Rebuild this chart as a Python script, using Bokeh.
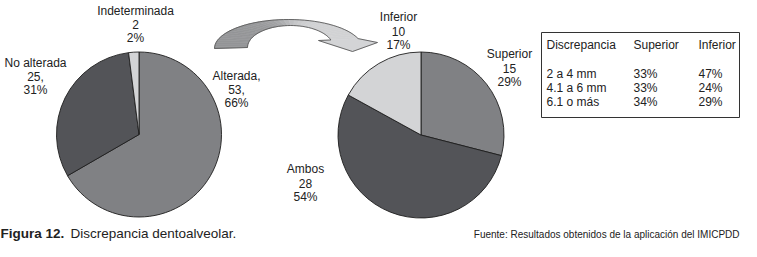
import numpy as np
from bokeh.plotting import figure
from bokeh.models import Range1d, ColumnDataSource
from bokeh.core.properties import value
from bokeh.embed import file_html
from bokeh.resources import INLINE

# ---------------- data ----------------
left_names = ["Alterada", "No alterada", "Indeterminada"]
left_counts = [53, 25, 2]
left_pcts = [66, 31, 2]
left_name_punct = [",", "", ""]
left_count_punct = [",", ",", ""]

right_names = ["Superior", "Ambos", "Inferior"]
right_counts = [15, 28, 10]
right_pcts = [29, 54, 17]

table_header = ["Discrepancia", "Superior", "Inferior"]
table_rows = ["2 a 4 mm", "4.1 a 6 mm", "6.1 o más"]
table_sup = ["33%", "33%", "34%"]
table_inf = ["47%", "24%", "29%"]

caption_bold = "Figura 12."
caption_text = "Discrepancia dentoalveolar."
source_text = "Fuente: Resultados obtenidos de la aplicación del IMICPDD"

# ---------------- styling ----------------
FONT = value("Liberation Sans")
TXT = "#222222"
slice_colors = ["#808184", "#535458", "#d3d4d6"]

W, H = 741, 241
p = figure(width=W, height=H, output_backend="svg", toolbar_location=None,
           x_range=Range1d(0, W), y_range=Range1d(H, 0),
           x_axis_type=None, y_axis_type=None, min_border=0)
p.grid.visible = False
p.outline_line_color = None
p.background_fill_color = "white"
p.border_fill_color = "white"


def pie(cx, cy, r, pcts, names):
    vals = np.array(pcts, dtype=float)
    frac = vals / vals.sum()
    cum = np.concatenate([[0], np.cumsum(frac)]) * 2 * np.pi
    start = np.pi / 2 - cum[1:]
    end = np.pi / 2 - cum[:-1]
    src = ColumnDataSource(dict(x=[cx] * len(vals), y=[cy] * len(vals),
                                start=start, end=end, color=slice_colors[:len(vals)],
                                name=names))
    p.wedge(x="x", y="y", radius=r, start_angle="start", end_angle="end",
            direction="anticlock", fill_color="color", line_color="#1e1e1e",
            line_width=0.9, source=src)


pie(138.5, 134.0, 82.5, left_pcts, left_names)
pie(420.5, 134.5, 83.0, right_pcts, right_names)


def label(x, y0, lines, dy=14.0, size="12px"):
    ys = [y0 + i * dy for i in range(len(lines))]
    p.text(x=[x] * len(lines), y=ys, text=lines, text_font=FONT,
           text_font_size=size, text_color=TXT, text_align="center",
           text_baseline="middle")


# left pie labels
lpos = [(236, 75.5), (35, 62.5), (135, 10)]
for i, (x, y) in enumerate(lpos):
    label(x, y, [left_names[i] + left_name_punct[i],
                 f"{left_counts[i]}{left_count_punct[i]}",
                 f"{left_pcts[i]}%"], dy=13.6)

# right pie labels
rpos = [(509, 53.5), (305, 168.5), (398, 16.5)]
for i, (x, y) in enumerate(rpos):
    label(x, y, [right_names[i], f"{right_counts[i]}", f"{right_pcts[i]}%"], dy=14.2)

# ---------------- curved arrow ----------------
ocx, ocy, oa, ob = 288.0, 48.0, 74.0, 29.0
icx, icy, ia, ib = 290.0, 47.0, 43.0, 22.0
th = np.linspace(np.pi, np.deg2rad(20), 40)
ox = ocx + oa * np.cos(th)
oy = ocy - ob * np.sin(th)
ix = icx + ia * np.cos(th)
iy = icy - ib * np.sin(th)


def grad(xm):
    t = 1 / (1 + np.exp(-(xm - 287) / 7.0))
    c0 = np.array([0x92, 0x93, 0x95]) + (xm - 214) / 70 * 10
    c1 = np.array([0xd2, 0xd3, 0xd5])
    c = (1 - t) * c0 + t * c1
    c = np.clip(c, 0, 255).astype(int)
    return "#%02x%02x%02x" % tuple(c)


xs, ys, cols = [], [], []
for k in range(len(th) - 1):
    xs.append([ox[k], ox[k + 1], ix[k + 1], ix[k]])
    ys.append([oy[k], oy[k + 1], iy[k + 1], iy[k]])
    cols.append(grad((ox[k] + ox[k + 1] + ix[k] + ix[k + 1]) / 4))
p.patches(xs=xs, ys=ys, fill_color=cols, line_color=cols, line_width=0.6)

head_x = [ox[-1], 377, 352, 318, ix[-1]]
head_y = [oy[-1], 42, 51, 40, iy[-1]]
p.patch(x=head_x, y=head_y, fill_color="#d3d4d6", line_color="#d3d4d6", line_width=0.6)

outline_x = list(ox) + head_x[1:4] + list(ix[::-1]) + [ox[0]]
outline_y = list(oy) + head_y[1:4] + list(iy[::-1]) + [oy[0]]
p.line(x=outline_x, y=outline_y, line_color="#5a5a5a", line_width=0.9)

# ---------------- table ----------------
TL = 541
p.quad(left=[TL], right=[TL + 198], top=[32], bottom=[117], fill_color=None,
       line_color="#333333", line_width=1)
col_x = [TL + 5, TL + 92, TL + 157]
p.text(x=col_x, y=[44.5] * 3, text=table_header, text_font=FONT,
       text_font_size="12px", text_color=TXT, text_align="left", text_baseline="middle")
row_y = [73, 87, 101]
for cx_, vals in zip(col_x, [table_rows, table_sup, table_inf]):
    p.text(x=[cx_] * 3, y=row_y, text=vals, text_font=FONT, text_font_size="12px",
           text_color=TXT, text_align="left", text_baseline="middle")

# ---------------- footer ----------------
p.text(x=[0], y=[233], text=[caption_bold], text_font=FONT, text_font_size="13.5px",
       text_font_style="bold", text_color=TXT, text_align="left", text_baseline="middle")
p.text(x=[70], y=[233], text=[caption_text], text_font=FONT, text_font_size="13.5px",
       text_color=TXT, text_align="left", text_baseline="middle")
p.text(x=[739], y=[234], text=[source_text], text_font=FONT, text_font_size="10px",
       text_color=TXT, text_align="right", text_baseline="middle")

open("out.html", "w").write(file_html(p, INLINE))
